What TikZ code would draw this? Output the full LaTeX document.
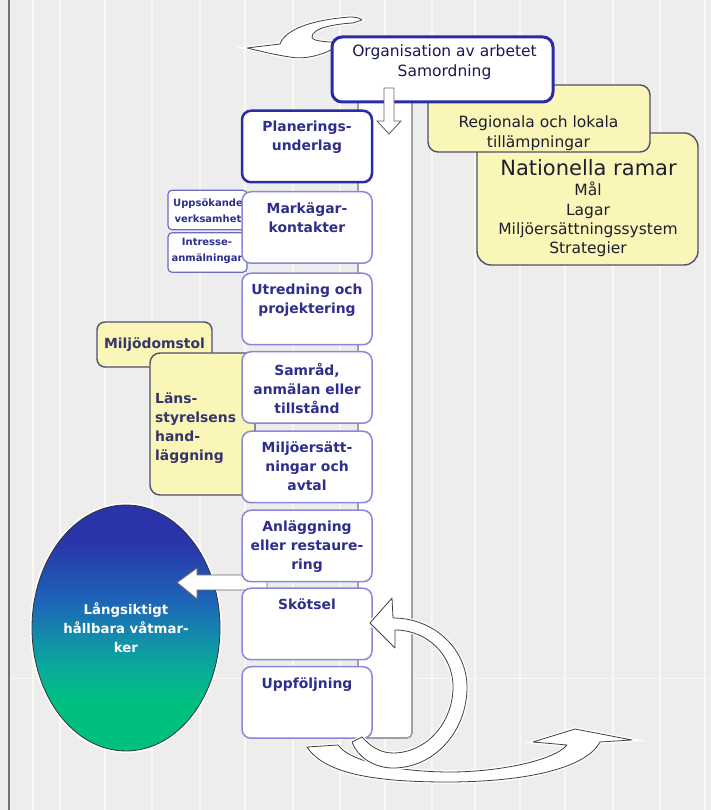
\documentclass[tikz,border=0pt]{standalone}
\usepackage{fontspec}
\setmainfont{DejaVu Sans}
\usetikzlibrary{positioning,shapes.geometric}
\definecolor{backdrop}{HTML}{EDEDED}
\definecolor{gridline}{HTML}{F9F9F2}
\definecolor{orgblue}{HTML}{2B2BA6}
\definecolor{steprim}{HTML}{8A88D8}
\definecolor{stepink}{HTML}{2E2E8C}
\definecolor{lanink}{HTML}{35356A}
\definecolor{note}{HTML}{FAF6B8}
\definecolor{noterim}{HTML}{50506E}
\definecolor{darkink}{HTML}{1E1E2C}
\definecolor{panelrim}{HTML}{A59CA6}
\definecolor{wetA}{HTML}{2A34A8}
\definecolor{wetB}{HTML}{1E62B8}
\definecolor{wetC}{HTML}{1290AA}
\definecolor{wetD}{HTML}{06B292}
\definecolor{wetE}{HTML}{00C080}
\pgfdeclareverticalshading{wetland}{100bp}{color(0bp)=(wetE); color(35bp)=(wetE);
  color(40bp)=(wetD); color(47.5bp)=(wetC); color(56bp)=(wetB); color(68bp)=(wetA);
  color(100bp)=(wetA)}

\begin{document}
\begin{tikzpicture}[
  x=1pt, y=1pt,
  every node/.style={inner sep=0pt},
  stepbox/.style={draw=steprim, line width=1.5pt, fill=white, rounded corners=9pt,
               minimum width=130pt, minimum height=71.5pt},
  steptext/.style={text=stepink, font=\bfseries\fontsize{13.9}{19}\selectfont, align=center},
  notebox/.style={draw=noterim, line width=1.4pt, fill=note, rounded corners=10pt},
  notetext/.style={text=darkink, font=\fontsize{15.5}{19.5}\selectfont, align=center},
  smallbox/.style={draw=orgblue!70, line width=1.2pt, fill=white, rounded corners=4pt,
               minimum width=79pt, minimum height=39.5pt},
  smalltext/.style={text=stepink, font=\bfseries\fontsize{10}{15.5}\selectfont, align=center},
  flatarrow/.style={draw=black!75, line width=0.8pt, fill=white, line join=round,
               preaction={draw=white, line width=3.5pt}},
  hollow/.style={draw=black!60, line width=0.9pt, fill=white}
]

% backdrop
\fill[backdrop] (0,0) rectangle (711,810);
\useasboundingbox (0,0) rectangle (711,810);
\foreach \gx in {33,60,105,152,200,245,293,340,385,432,475,520,565,613,660,705}
  \draw[gridline, line width=1.5pt] (\gx,0) -- (\gx,810);
\draw[gridline, line width=1pt] (9,131) -- (711,131);
\draw[black!55, line width=2.5pt] (9,0) -- (9,810);

% long arrow at the bottom
\draw[flatarrow] (307,63) .. controls (325,35) and (380,28) .. (447,28)
  .. controls (520,28) and (585,40) .. (600,68) -- (632,70) -- (575,81) -- (533,68)
  -- (567,65) .. controls (555,50) and (500,38) .. (450,38)
  .. controls (400,38) and (350,48) .. (338,65) -- cycle;

% panel behind the steps
\draw[panelrim, line width=1.6pt, fill=white, rounded corners=5pt] (358,72) rectangle (412,715);

% arrow at the top
\draw[flatarrow] (247,762) -- (280,766) .. controls (285,780) and (310,790) .. (350,793)
  .. controls (356,793) and (360,792) .. (362,790) -- (353,787)
  .. controls (335,786) and (312,782) .. (312,773) .. controls (312,768) and (330,768) .. (350,767)
  -- (342,766) .. controls (325,755) and (305,750) .. (290,753)
  .. controls (275,755) and (260,759) .. (247,762) -- cycle;

% frames
\node[notebox, minimum width=221pt, minimum height=132pt, rounded corners=14pt] (ramar) at (587.5,611) {};
\node[notetext, font=\fontsize{21}{24}\selectfont] (ramar-title) at (588.5,642) {Nationella ramar};
\node[notetext, font=\fontsize{15.5}{19.3}\selectfont] (ramar-list) at (588,590.5)
  {Mål\\Lagar\\Miljöersättningssystem\\Strategier};

\node[notebox, minimum width=222pt, minimum height=67pt] (regional) at (539,691.5) {};
\node[notetext] (regional-text) at (538.5,677) {Regionala och lokala\\tillämpningar};

\node[draw=orgblue, line width=3pt, fill=white, rounded corners=10pt,
      minimum width=221pt, minimum height=65pt] (org) at (442.5,740.5) {};
\node[notetext, text=darkink!85!blue] (org-text) at (444.5,748) {Organisation av arbetet\\Samordning};

\draw[hollow] (384,722) -- (384,689) -- (377,689) -- (389,676) -- (401,689) -- (394,689) -- (394,722) -- cycle;

% side boxes
\node[smallbox] (seek) at (207.5,600) {};
\node[smalltext] (seek-text) at (208,599.5) {Uppsökande\\verksamhet};
\node[smallbox] (interest) at (207.5,557.5) {};
\node[smalltext] (interest-text) at (207,559) {Intresse-\\anmälningar};

\node[notebox, minimum width=115pt, minimum height=45pt, rounded corners=8pt,
      text=lanink, font=\bfseries\fontsize{13.9}{19}\selectfont] (court) at (154.5,465.5) {Miljödomstol};
\node[notebox, minimum width=105pt, minimum height=142pt] (county) at (202.5,386) {};
\node[steptext, text=lanink, align=left, anchor=west] (county-text) at (155,382)
  {Läns-\\styrelsens\\hand-\\läggning};

% goal
\node[ellipse, shade, shading=wetland, draw=black!80, line width=0.8pt,
      preaction={draw=white, line width=4pt},
      minimum width=188pt, minimum height=246pt,
      text=white, font=\bfseries\fontsize{13.3}{19}\selectfont, align=center] (goal) at (126,182)
  {Långsiktigt\\hållbara våtmar-\\ker};

\draw[hollow] (267,235) -- (197,235) -- (197,242) -- (177,227.5) -- (197,211) -- (197,220) -- (267,220) -- cycle;

% steps
\node[stepbox, draw=orgblue, line width=2.5pt] (plan) at (307,663.5) {};
\node[steptext, below=11.5pt of plan.north] (plan-text) {Planerings-\\underlag};
\node[stepbox] (owner) at (307,582.5) {};
\node[steptext, below=11.5pt of owner.north] (owner-text) {Markägar-\\kontakter};
\node[stepbox] (survey) at (307,501) {};
\node[steptext, below=11.5pt of survey.north] (survey-text) {Utredning och\\projektering};
\node[stepbox] (consult) at (307,422.5) {};
\node[steptext, below=11.5pt of consult.north] (consult-text) {Samråd,\\anmälan eller\\tillstånd};
\node[stepbox] (comp) at (307,343) {};
\node[steptext, below=11.5pt of comp.north] (comp-text) {Miljöersätt-\\ningar och\\avtal};
\node[stepbox] (build) at (307,264) {};
\node[steptext, below=11.5pt of build.north] (build-text) {Anläggning\\eller restaure-\\ring};
\node[stepbox] (care) at (307,186) {};
\node[steptext, below=11.5pt of care.north] (care-text) {Skötsel};
\node[stepbox] (follow) at (307,107.5) {};
\node[steptext, below=11.5pt of follow.north] (follow-text) {Uppföljning};

% turning arrow
\draw[flatarrow] (370,187) -- (392,212) -- (393,192) .. controls (434,192) and (467,161) .. (467,123)
  .. controls (467,78) and (434,42) .. (393,42) .. controls (375,42) and (358,52) .. (352,68)
  -- (362,73) .. controls (370,64) and (380,57) .. (393,57)
  .. controls (426,57) and (453,87) .. (453,123) .. controls (453,155) and (427,180) .. (395,180)
  -- (395,162) -- cycle;

\end{tikzpicture}
\end{document}
